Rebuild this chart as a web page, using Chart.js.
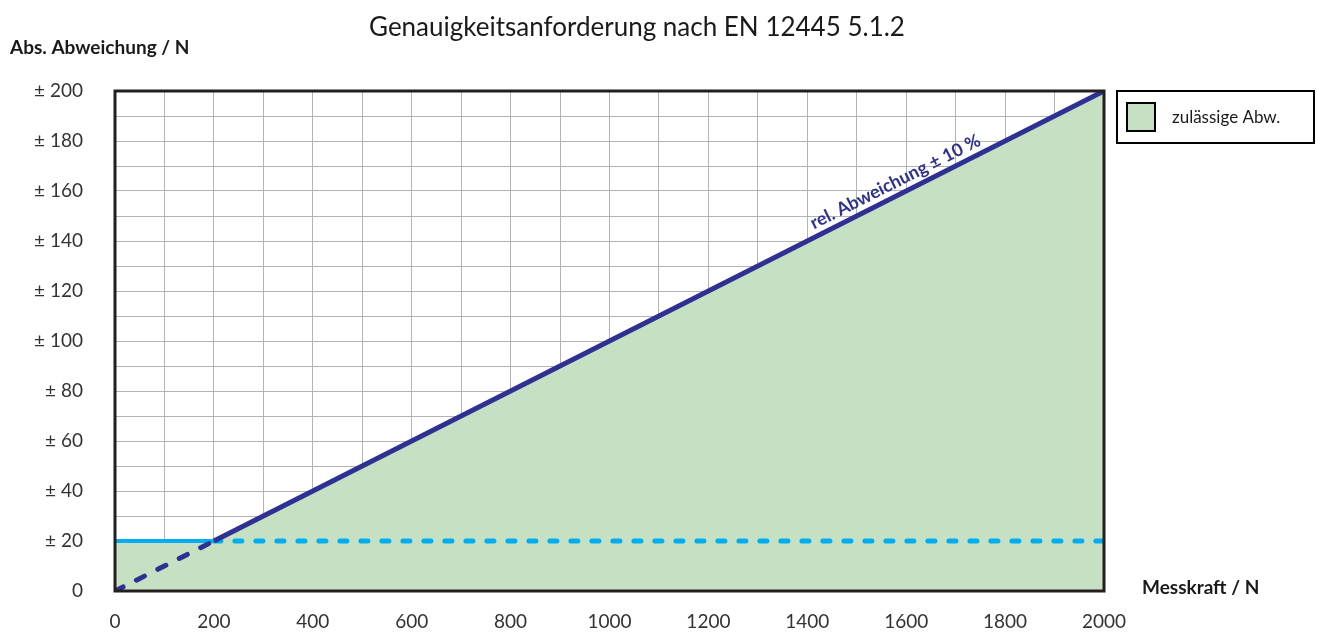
<!DOCTYPE html>
<html>
<head>
<meta charset="utf-8">
<script src="https://cdn.jsdelivr.net/npm/chart.js@4.4.1/dist/chart.umd.min.js"></script>
<style>
  html, body { margin: 0; padding: 0; background: #fff; }
  #wrap { width: 1317px; height: 635px; position: relative; }
</style>
</head>
<body>
<div id="wrap"><canvas id="myChart"></canvas></div>
<script>
// tolerance envelope (max of ±20 N and ±10 %)
const envelopeX = [0, 200, 2000];
const envelopeY = [20, 20, 200];
// absolute limit ±20 N, solid up to 200 N, dotted beyond
const absSolidX = [0, 200];
const absSolidY = [20, 20];
const absDotX = [200, 2000];
const absDotY = [20, 20];
// relative limit ±10 %, dashed below 200 N, solid beyond
const relDashX = [0, 200];
const relDashY = [0, 20];
const relSolidX = [200, 2000];
const relSolidY = [20, 200];

const xTickLabels = [0, 200, 400, 600, 800, 1000, 1200, 1400, 1600, 1800, 2000];
const yTickLabels = ['0', '± 20', '± 40', '± 60', '± 80', '± 100', '± 120', '± 140', '± 160', '± 180', '± 200'];

const green = '#c5e0c2';
const darkBlue = '#2e3192';
const lightBlue = '#00aeef';
const FONT = 'Lato, "Open Sans", sans-serif';

function pts(xs, ys) {
    return xs.map((x, i) => ({ x: x, y: ys[i] }));
}

// title, axis names, frame, legend box, line label
const extras = {
    id: 'extras',
    afterDatasetsDraw(chart) {
        const c = chart.ctx;
        const a = chart.chartArea;
        const xs = chart.scales.x, ys = chart.scales.y;
        c.save();
        // frame
        c.strokeStyle = '#231f20';
        c.lineWidth = 3;
        c.strokeRect(a.left, a.top, a.right - a.left, a.bottom - a.top);

        // line label
        const x0 = xs.getPixelForValue(200), y0 = ys.getPixelForValue(20);
        const x1 = xs.getPixelForValue(2000), y1 = ys.getPixelForValue(200);
        const ang = Math.atan2(y1 - y0, x1 - x0);
        const lx = xs.getPixelForValue(1590), ly = ys.getPixelForValue(159);
        c.translate(lx, ly);
        c.rotate(ang);
        c.fillStyle = darkBlue;
        c.font = 'bold 18px ' + FONT;
        c.textAlign = 'center';
        c.textBaseline = 'bottom';
        c.fillText('rel. Abweichung ± 10 %', 0, -4);
        c.restore();
    },
    afterDraw(chart) {
        const c = chart.ctx;
        c.save();
        c.fillStyle = '#1a1a1a';
        c.textBaseline = 'middle';
        c.font = '26px ' + FONT;
        c.textAlign = 'center';
        c.fillText('Genauigkeitsanforderung nach EN 12445 5.1.2', 637, 28);
        c.font = 'bold 19px ' + FONT;
        c.textAlign = 'left';
        c.fillText('Abs. Abweichung / N', 10, 48);
        c.fillText('Messkraft / N', 1142, 588);

        // legend
        c.lineWidth = 2;
        c.strokeStyle = '#000';
        c.strokeRect(1117, 91, 197, 52);
        c.fillStyle = green;
        c.fillRect(1127, 103, 28, 28);
        c.strokeRect(1127, 103, 28, 28);
        c.fillStyle = '#1a1a1a';
        c.font = '17px ' + FONT;
        c.fillText('zulässige Abw.', 1172, 118);
        c.restore();
    }
};

const ctx = document.getElementById('myChart');
const myChart = new Chart(ctx, {
    type: 'line',
    data: {
        datasets: [
            {
                label: 'zulässige Abw.',
                data: pts(envelopeX, envelopeY),
                backgroundColor: green,
                borderWidth: 0,
                fill: 'origin',
                pointRadius: 0,
                order: 5
            },
            {
                data: pts(absSolidX, absSolidY),
                borderColor: lightBlue,
                borderWidth: 4,
                pointRadius: 0,
                order: 4
            },
            {
                data: pts(absDotX, absDotY),
                borderColor: lightBlue,
                borderWidth: 5,
                borderDash: [7, 14],
                borderCapStyle: 'round',
                pointRadius: 0,
                order: 3
            },
            {
                data: pts(relDashX, relDashY),
                borderColor: darkBlue,
                borderWidth: 5,
                borderDash: [9, 15],
                borderCapStyle: 'round',
                pointRadius: 0,
                order: 2
            },
            {
                data: pts(relSolidX, relSolidY),
                borderColor: darkBlue,
                borderWidth: 5,
                pointRadius: 0,
                order: 1
            }
        ]
    },
    options: {
        responsive: true,
        maintainAspectRatio: false,
        animation: false,
        layout: {
            padding: { left: 0, right: 213, top: 91, bottom: 0 }
        },
        plugins: {
            legend: { display: false },
            tooltip: { enabled: false }
        },
        scales: {
            x: {
                type: 'linear',
                min: 0,
                max: 2000,
                afterFit(scale) { scale.height = 44; },
                grid: { color: '#b3b3b3', lineWidth: 1, drawTicks: false },
                border: { display: false },
                ticks: {
                    stepSize: 100,
                    padding: 19,
                    color: '#333',
                    font: { family: FONT, size: 19 },
                    maxRotation: 0,
                    autoSkip: false,
                    callback: (v) => (v % 200 === 0 ? String(xTickLabels[v / 200]) : '')
                }
            },
            y: {
                min: 0,
                max: 200,
                afterFit(scale) { scale.width = 115; },
                grid: { color: '#b3b3b3', lineWidth: 1, drawTicks: false },
                border: { display: false },
                ticks: {
                    stepSize: 10,
                    padding: 32,
                    color: '#333',
                    font: { family: FONT, size: 19 },
                    autoSkip: false,
                    callback: (v) => (v % 20 === 0 ? yTickLabels[v / 20] : '')
                }
            }
        }
    },
    plugins: [extras]
});
</script>
</body>
</html>
